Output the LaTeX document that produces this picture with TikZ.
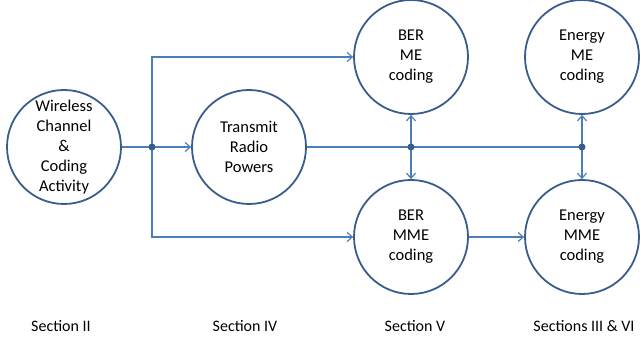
\documentclass[tikz,border=0pt]{standalone}
\usepackage{fontspec}
\setmainfont{Carlito}
\usetikzlibrary{arrows.meta,positioning}
\definecolor{ringblue}{HTML}{385D8A}
\definecolor{lineblue}{HTML}{4A7EBB}
\tikzset{
  stage/.style={circle,draw=ringblue,line width=1.8pt,minimum size=114pt,inner sep=0pt,
    align=center,font=\fontsize{16.5}{20}\selectfont},
  link/.style={draw=lineblue,line width=1.2pt},
  arr/.style={link,-{Straight Barb[length=5pt,width=9pt]}},
  sect/.style={font=\fontsize{16}{19}\selectfont}
}
\begin{document}
\begin{tikzpicture}[x=1pt,y=1pt]
  \useasboundingbox (0,0) rectangle (640,-344);
  % circles
  \node[stage] (wire) at (64,-147) {Wireless\\Channel\\\&\\Coding\\Activity};
  \node[stage] (trans) at (249,-147) {Transmit\\Radio\\Powers};
  \node[stage] (berme) at (411,-57) {BER\\ME\\coding};
  \node[stage] (bermme) at (411,-237) {BER\\MME\\coding};
  \node[stage] (enme) at (582,-57) {Energy\\ME\\coding};
  \node[stage] (enmme) at (582,-237) {Energy\\MME\\coding};
  % junctions
  \coordinate (ja) at (152,-147);
  \coordinate (jb) at (berme |- trans);
  \coordinate (jc) at (enme |- trans);
  % connectors
  \draw[link] (wire) -- (ja);
  \draw[arr] (ja) -- (trans);
  \draw[arr] (ja) |- (berme);
  \draw[arr] (ja) |- (bermme);
  \draw[link] (trans) -- (jb) -- (jc);
  \foreach \j/\up/\dn in {jb/berme/bermme, jc/enme/enmme} {
    \draw[arr] (\j) -- (\up);
    \draw[arr] (\j) -- (\dn);
  }
  \draw[arr] (bermme) -- (enmme);
  \foreach \j in {ja,jb,jc}
    \fill[ringblue] (\j) circle (3.5pt);
  % section labels
  \node[sect] (s2) at (61,-326) {Section II};
  \node[sect] (s4) at (245,-326) {Section IV};
  \node[sect] (s5) at (415,-326) {Section V};
  \node[sect] (s36) at (584,-326) {Sections III \& VI};
\end{tikzpicture}
\end{document}
